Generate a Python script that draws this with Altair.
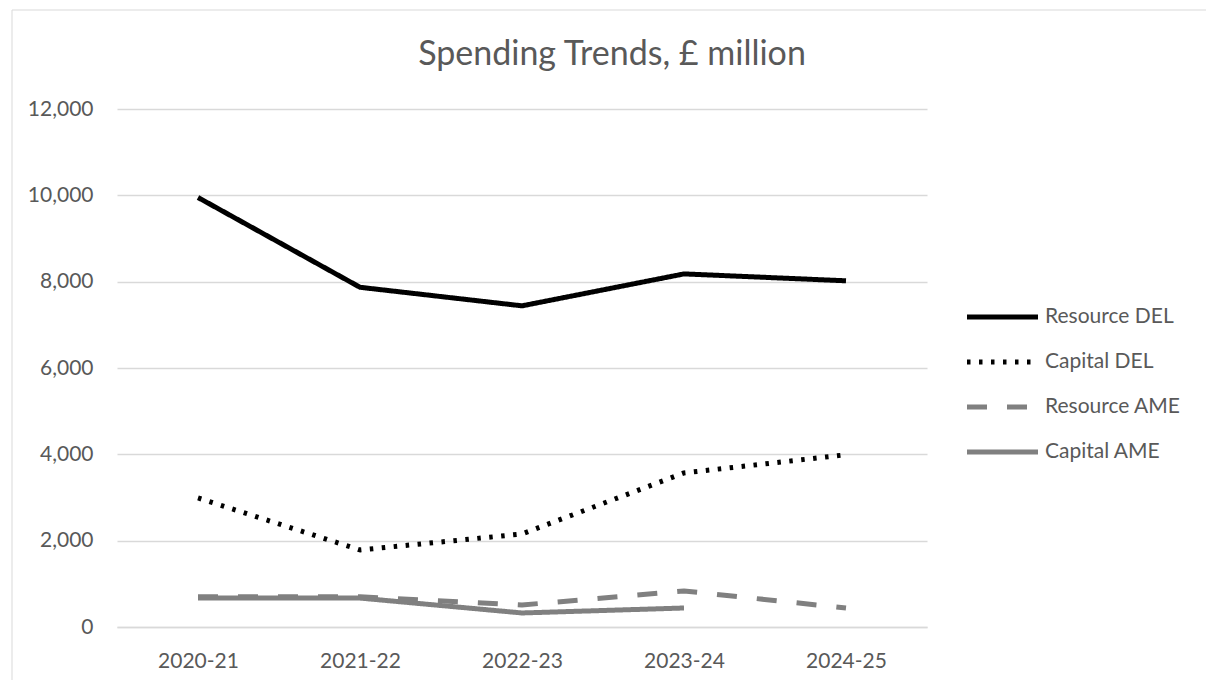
import altair as alt
import pandas as pd

title_text = ["Spending Trends, £ million"]
years = ["2020-21", "2021-22", "2022-23", "2023-24", "2024-25"]
series = ["Resource DEL", "Capital DEL", "Resource AME", "Capital AME"]
resource_del = [9950, 7870, 7440, 8180, 8020]
capital_del = [2990, 1785, 2155, 3570, 3990]
resource_ame = [700, 700, 510, 835, 440]
capital_ame = [670, 670, 325, 440, None]

colors = ["#000000", "#000000", "#808080", "#808080"]
dashes = [[1, 0], [3.5, 8.5], [20, 20], [1, 0]]
y_ticks = [0, 2000, 4000, 6000, 8000, 10000, 12000]

rows = []
for name, vals in zip(series, [resource_del, capital_del, resource_ame, capital_ame]):
    for i, (yr, v) in enumerate(zip(years, vals)):
        if v is not None:
            rows.append({"year": yr, "series": name, "value": v, "order": i})
df = pd.DataFrame(rows)
legend_df = pd.DataFrame({"series": series})
title_df = pd.DataFrame({"t": title_text})

TXT = "#595959"
FONT = "Lato"

color = alt.Color("series:N", scale=alt.Scale(domain=series, range=colors), legend=None)
dash = alt.StrokeDash("series:N", scale=alt.Scale(domain=series, range=dashes), legend=None)

border = alt.Chart(title_df).mark_rect(fill=None, stroke="#d9d9d9", strokeWidth=1).encode(
    x=alt.value(-105), x2=alt.value(1300), y=alt.value(-99), y2=alt.value(800)
)
title = alt.Chart(title_df).mark_text(fontSize=34, font=FONT, color=TXT, align="center",
                                      baseline="alphabetic").encode(
    x=alt.value(495), y=alt.value(-44), text="t:N"
)

lines = alt.Chart(df).mark_line(strokeWidth=5, strokeCap="butt", strokeJoin="round").encode(
    x=alt.X("year:N", sort=years, scale=alt.Scale(type="point", padding=0.5),
            axis=alt.Axis(title=None, labelFontSize=21, labelColor=TXT, labelFont=FONT,
                          tickSize=0, labelPadding=23, domainColor="#d9d9d9", domainWidth=1.5,
                          grid=False, labelAngle=0)),
    y=alt.Y("value:Q", scale=alt.Scale(domain=[0, 12000], nice=False),
            axis=alt.Axis(title=None, values=y_ticks, format=",.0f", labelFontSize=21,
                          labelColor=TXT, labelFont=FONT, tickSize=0, labelPadding=24,
                          domain=False, gridColor="#d9d9d9", gridWidth=1.5)),
    color=color,
    strokeDash=dash,
    order=alt.Order("order:Q"),
    detail="series:N",
)

ly = alt.Y("series:N", sort=series,
           scale=alt.Scale(type="point", domain=series, range=[208, 343], padding=0),
           axis=None)
leg_lines = alt.Chart(legend_df).mark_rule(strokeWidth=5, strokeCap="butt").encode(
    x=alt.value(850), x2=alt.value(921), y=ly, color=color, strokeDash=dash
)
leg_text = alt.Chart(legend_df).mark_text(align="left", baseline="middle", fontSize=21,
                                           font=FONT, color=TXT).encode(
    x=alt.value(928), y=ly, text="series:N"
)

chart = alt.layer(border, title, lines, leg_lines, leg_text).resolve_scale(y="independent").properties(
    width=810, height=518,
    padding={"left": 117, "top": 109, "right": 279, "bottom": 53},
    autosize=alt.AutoSizeParams(type="none"),
).configure(background="white").configure_view(strokeWidth=0, stroke="transparent")

chart.save("out.html", embed_options={"renderer": "svg", "actions": False})
